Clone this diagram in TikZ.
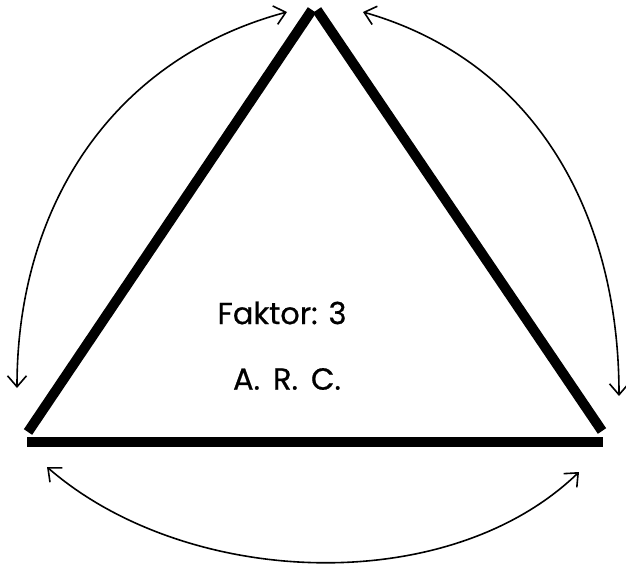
\documentclass[tikz,border=0pt]{standalone}
\usepackage{fontspec}
\setmainfont[FakeBold=0.6]{Poppins}
\usetikzlibrary{arrows.meta}
\tikzset{
  side/.style={line width=10pt, line cap=butt},
  swing/.style={line width=1.6pt, {Straight Barb[length=11pt,width=19pt]}-{Straight Barb[length=11pt,width=19pt]}},
  lbl/.style={font=\fontsize{30.5}{36}\selectfont, anchor=center, inner sep=0pt}
}
\begin{document}
\begin{tikzpicture}[x=1pt,y=1pt]
\useasboundingbox (0,0) rectangle (626,563);
% triangle corners (three separate strokes)
\coordinate (LB) at (28,131);
\coordinate (LT) at (312,553);
\coordinate (RT) at (317,553);
\coordinate (RB) at (602,132);
\coordinate (BL) at (27,121);
\coordinate (BR) at (603,121);
\draw[side] (LB) -- (LT);
\draw[side] (RT) -- (RB);
\draw[side] (BL) -- (BR);
% arrow end points
\coordinate (A1) at (17,175);
\coordinate (A2) at (287,551);
\coordinate (B1) at (363,551);
\coordinate (B2) at (619,167);
\coordinate (C1) at (47,96);
\coordinate (C2) at (579,91);
\draw[swing] (A1) to[out=90,in=195] (A2);
\draw[swing] (B1) to[out=-16,in=90] (B2);
\draw[swing] (C1) to[out=-41,in=224,looseness=0.88] (C2);
% labels
\node[lbl] (f) at (282,250) {Faktor: 3};
\node[lbl] (a) at (287,184) {A.\hspace{13pt}R.\hspace{13pt}C.};
\end{tikzpicture}
\end{document}
